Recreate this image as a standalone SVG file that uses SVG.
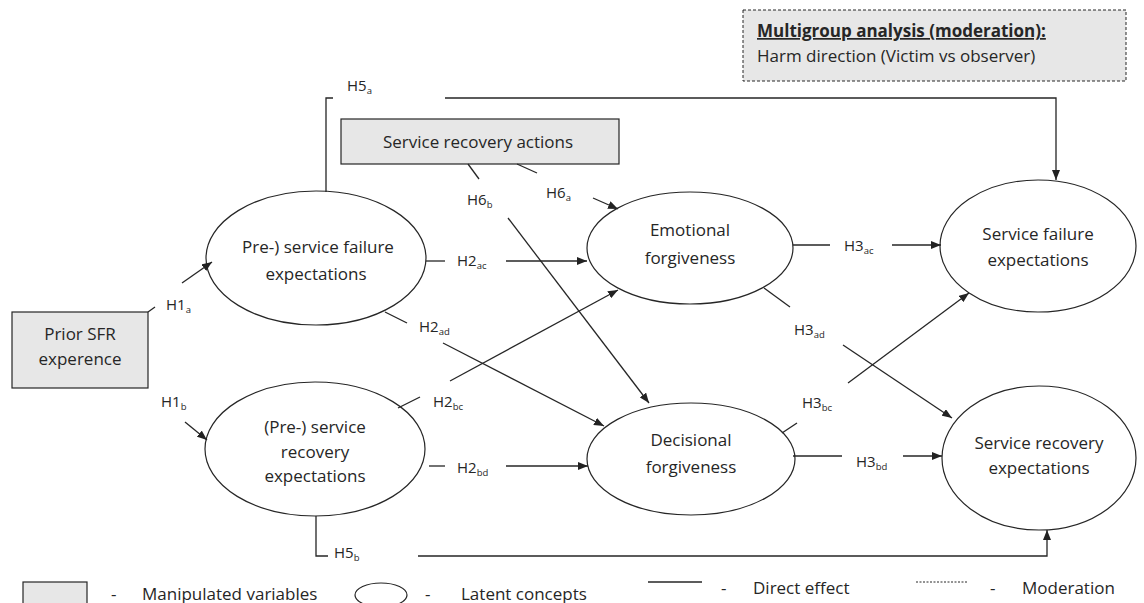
<svg xmlns="http://www.w3.org/2000/svg" width="1144" height="603" viewBox="0 0 1144 603">
  <defs>
    <marker id="arrow" viewBox="0 0 10 8" refX="10" refY="4" markerWidth="10" markerHeight="8" markerUnits="userSpaceOnUse" orient="auto">
      <path d="M0,0 L10,4 L0,8 Z" fill="#222"/>
    </marker>
    <style>
      .txt { font-family: "Open Sans", "Liberation Sans", sans-serif; font-size: 17px; fill: #262626; }
      .lbl { font-family: "Open Sans", "Liberation Sans", sans-serif; font-size: 15px; fill: #262626; }
      .sub { font-size: 9.5px; }
      .box { fill: #e7e7e7; stroke: #262626; stroke-width: 1.2; }
      .node { fill: #ffffff; stroke: #262626; stroke-width: 1.2; }
      .ln { fill: none; stroke: #262626; stroke-width: 1.3; }
      .arr { fill: none; stroke: #262626; stroke-width: 1.3; marker-end: url(#arrow); }
    </style>
  </defs>
  <rect width="1144" height="603" fill="#ffffff"/>

  <!-- moderator box -->
  <g id="moderation">
    <rect x="743" y="10" width="383" height="71" fill="#e7e7e7" stroke="#262626" stroke-width="1" stroke-dasharray="3,2"/>
    <text class="txt" x="757" y="37" font-weight="bold" text-decoration="underline">Multigroup analysis (moderation):</text>
    <text class="txt" x="757" y="62">Harm direction (Victim vs observer)</text>
  </g>

  <g id="prior-sfr">
    <rect class="box" x="12" y="312" width="136" height="76"/>
    <text class="txt" x="80" y="340" text-anchor="middle">Prior SFR</text>
    <text class="txt" x="80" y="365" text-anchor="middle">experence</text>
  </g>

  <g id="recovery-actions">
    <rect class="box" x="341" y="119" width="278" height="45"/>
    <text class="txt" x="478" y="148" text-anchor="middle">Service recovery actions</text>
  </g>

  <g id="pre-failure">
    <ellipse class="node" cx="316" cy="258" rx="110" ry="67"/>
    <text class="txt" x="318" y="253" text-anchor="middle">Pre-) service failure</text>
    <text class="txt" x="316" y="280" text-anchor="middle">expectations</text>
  </g>

  <g id="pre-recovery">
    <ellipse class="node" cx="315" cy="449" rx="110" ry="67"/>
    <text class="txt" x="315" y="433" text-anchor="middle">(Pre-) service</text>
    <text class="txt" x="315" y="458" text-anchor="middle">recovery</text>
    <text class="txt" x="315" y="482" text-anchor="middle">expectations</text>
  </g>

  <g id="emotional">
    <ellipse class="node" cx="690" cy="248" rx="103" ry="56"/>
    <text class="txt" x="690" y="236" text-anchor="middle">Emotional</text>
    <text class="txt" x="690" y="264" text-anchor="middle">forgiveness</text>
  </g>

  <g id="decisional">
    <ellipse class="node" cx="691" cy="459" rx="104" ry="56"/>
    <text class="txt" x="691" y="446" text-anchor="middle">Decisional</text>
    <text class="txt" x="691" y="473" text-anchor="middle">forgiveness</text>
  </g>

  <g id="failure-exp">
    <ellipse class="node" cx="1038" cy="246" rx="98" ry="66"/>
    <text class="txt" x="1038" y="240" text-anchor="middle">Service failure</text>
    <text class="txt" x="1038" y="266" text-anchor="middle">expectations</text>
  </g>

  <g id="recovery-exp">
    <ellipse class="node" cx="1039" cy="458" rx="97" ry="72"/>
    <text class="txt" x="1039" y="449" text-anchor="middle">Service recovery</text>
    <text class="txt" x="1039" y="474" text-anchor="middle">expectations</text>
  </g>

  <g id="connectors">
    <!-- H1 -->
    <line class="ln" x1="148" y1="312" x2="155" y2="307"/>
    <line class="arr" x1="182" y1="283" x2="212" y2="262"/>
    <line class="arr" x1="185" y1="422" x2="207" y2="440"/>
    <!-- H2 -->
    <line class="ln" x1="426" y1="261" x2="445" y2="261"/>
    <line class="arr" x1="506" y1="261" x2="587" y2="261"/>
    <line class="ln" x1="385" y1="312" x2="407" y2="323"/>
    <line class="arr" x1="443" y1="343" x2="604" y2="426"/>
    <line class="ln" x1="398" y1="408" x2="420" y2="397"/>
    <line class="arr" x1="450" y1="381" x2="618" y2="290"/>
    <line class="ln" x1="429" y1="466" x2="445" y2="466"/>
    <line class="arr" x1="506" y1="466" x2="588" y2="466"/>
    <!-- H6 -->
    <line class="ln" x1="517" y1="164" x2="537" y2="173"/>
    <line class="arr" x1="593" y1="198" x2="618" y2="209"/>
    <line class="ln" x1="468" y1="164" x2="479" y2="179"/>
    <line class="arr" x1="508" y1="218" x2="649" y2="403"/>
    <!-- H3 -->
    <line class="ln" x1="793" y1="245" x2="830" y2="245"/>
    <line class="arr" x1="892" y1="245" x2="941" y2="245"/>
    <line class="ln" x1="764" y1="288" x2="790" y2="307"/>
    <line class="arr" x1="843" y1="345" x2="952" y2="418"/>
    <line class="ln" x1="782" y1="433" x2="797" y2="423"/>
    <line class="arr" x1="848" y1="383" x2="969" y2="293"/>
    <line class="ln" x1="793" y1="456" x2="842" y2="456"/>
    <line class="arr" x1="903" y1="456" x2="942" y2="456"/>
    <!-- H5 -->
    <polyline class="ln" points="326,192 326,98 333,98"/>
    <polyline class="arr" points="445,98 1056,98 1056,180"/>
    <polyline class="ln" points="316,516 316,556 328,556"/>
    <polyline class="arr" points="418,556 1047,556 1047,530"/>

    <!-- path labels -->
    <text class="lbl" x="347" y="91">H5<tspan class="sub" dy="3">a</tspan></text>
    <text class="lbl" x="166" y="310">H1<tspan class="sub" dy="3">a</tspan></text>
    <text class="lbl" x="161" y="407">H1<tspan class="sub" dy="3">b</tspan></text>
    <text class="lbl" x="457" y="266">H2<tspan class="sub" dy="3">ac</tspan></text>
    <text class="lbl" x="419" y="332">H2<tspan class="sub" dy="3">ad</tspan></text>
    <text class="lbl" x="433" y="407">H2<tspan class="sub" dy="3">bc</tspan></text>
    <text class="lbl" x="457" y="473">H2<tspan class="sub" dy="3">bd</tspan></text>
    <text class="lbl" x="546" y="198">H6<tspan class="sub" dy="3">a</tspan></text>
    <text class="lbl" x="467" y="205">H6<tspan class="sub" dy="3">b</tspan></text>
    <text class="lbl" x="844" y="251">H3<tspan class="sub" dy="3">ac</tspan></text>
    <text class="lbl" x="794" y="335">H3<tspan class="sub" dy="3">ad</tspan></text>
    <text class="lbl" x="802" y="408">H3<tspan class="sub" dy="3">bc</tspan></text>
    <text class="lbl" x="856" y="467">H3<tspan class="sub" dy="3">bd</tspan></text>
    <text class="lbl" x="334" y="558">H5<tspan class="sub" dy="3">b</tspan></text>
  </g>

  <!-- legend -->
  <g id="legend">
    <rect class="box" x="23" y="582" width="64" height="30"/>
    <text class="txt" x="111" y="600">-</text>
    <text class="txt" x="142" y="600">Manipulated variables</text>
    <ellipse class="node" cx="381" cy="595" rx="26" ry="12"/>
    <text class="txt" x="425" y="600">-</text>
    <text class="txt" x="461" y="600">Latent concepts</text>
    <line class="ln" x1="648" y1="582" x2="702" y2="582"/>
    <text class="txt" x="721" y="594">-</text>
    <text class="txt" x="753" y="594">Direct effect</text>
    <line x1="916" y1="582" x2="967" y2="582" stroke="#262626" stroke-width="1" stroke-dasharray="2,1.5"/>
    <text class="txt" x="990" y="594">-</text>
    <text class="txt" x="1022" y="594">Moderation</text>
  </g>
</svg>
